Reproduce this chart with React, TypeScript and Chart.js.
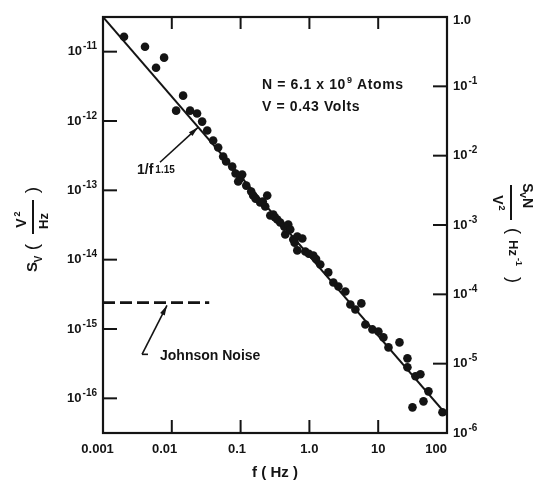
import React, { useEffect, useRef } from "react";
import { Chart, registerables } from "chart.js";

Chart.register(...registerables);

// ---- data ----
const freqHz = [
  0.00202, 0.00408, 0.00773, 0.0059, 0.0146, 0.01156, 0.01844, 0.0233, 0.0276, 0.0327,
  0.0399, 0.0472, 0.0558, 0.0616, 0.0755, 0.0986, 0.1054, 0.0923, 0.1208, 0.1426,
  0.1524, 0.2438, 0.1927, 0.228, 0.27, 0.2986, 0.341, 0.3767, 0.4315, 0.493,
  0.4457, 0.527, 0.583, 0.667, 0.789, 0.667, 0.871, 1.14, 1.44, 1.88,
  2.23, 2.64, 3.33, 3.94, 5.69, 4.66, 6.51, 8.24, 10.07, 11.9,
  14.1, 20.4, 26.6, 26.6, 34.8, 41.1, 53.8, 45.5, 31.5, 85.9,
  0.0845, 0.1650, 0.2100, 0.3150, 0.6100, 0.9800, 1.2500,
];
const svNoise = [
  1.64e-11, 1.18e-11, 8.2e-12, 5.87e-12, 2.32e-12, 1.41e-12, 1.41e-12, 1.28e-12, 9.8e-13, 7.28e-13,
  5.23e-13, 4.14e-13, 3.07e-13, 2.6e-13, 2.2e-13, 1.48e-13, 1.69e-13, 1.34e-13, 1.17e-13, 9.6e-14,
  8.4e-14, 8.4e-14, 6.67e-14, 5.85e-14, 4.34e-14, 4.48e-14, 3.79e-14, 3.43e-14, 3.0e-14, 3.21e-14,
  2.31e-14, 2.72e-14, 1.95e-14, 2.16e-14, 2.02e-14, 1.36e-14, 1.31e-14, 1.15e-14, 8.5e-15, 6.55e-15,
  4.69e-15, 4.11e-15, 3.48e-15, 2.26e-15, 2.34e-15, 1.91e-15, 1.16e-15, 9.86e-16, 9.2e-16, 7.57e-16,
  5.43e-16, 6.41e-16, 3.77e-16, 2.8e-16, 2.08e-16, 2.22e-16, 1.26e-16, 9.05e-17, 7.41e-17, 6.29e-17,
  1.75e-13, 7.6e-14, 6.9e-14, 4.1e-14, 1.75e-14, 1.22e-14, 1.02e-14,
];

const fitFreq = [0.001, 100];
const fitSv = [3.16e-11, 5.7e-17];

const johnsonFreq = [0.001, 0.035];
const johnsonSv = [2.4e-15, 2.4e-15];

const xTickValues = [0.001, 0.01, 0.1, 1, 10, 100];
const xTickLabels = ["0.001", "0.01", "0.1", "1.0", "10", "100"];
const leftTickValues = [1e-16, 1e-15, 1e-14, 1e-13, 1e-12, 1e-11];
const leftTickBase = ["10", "10", "10", "10", "10", "10"];
const leftTickExp = ["-16", "-15", "-14", "-13", "-12", "-11"];
const rightTickValues = [1e-6, 1e-5, 1e-4, 1e-3, 1e-2, 1e-1, 1];
const rightTickBase = ["10", "10", "10", "10", "10", "10", "1.0"];
const rightTickExp = ["-6", "-5", "-4", "-3", "-2", "-1", ""];

// ---- layout / style ----
const INK = "#141414";
const FAMILY = '"Liberation Sans", Arial, sans-serif';
const fnt = (size: number, weight = "bold") => `${weight} ${size}px ${FAMILY}`;
// trailing spaces nudge some x labels left, as in the original lettering
const X_NUDGE = ["   ", "    ", "  ", "", "", "      "];

// annotation anchors in data coordinates (f in Hz, S in V^2/Hz)
const ANN = {
  atoms: [0.205, 3.27e-12],
  volts: [0.205, 1.57e-12],
  slope: [0.00312, 1.95e-13],
  slopeFrom: [0.00674, 2.54e-13],
  slopeTo: [0.0241, 8.1e-13],
  johnText: [0.00674, 4.04e-16],
  johnFoot: [0.00451, 4.31e-16],
  johnFrom: [0.00369, 4.31e-16],
  johnTo: [0.00851, 2.19e-15],
};

const decorPlugin = {
  id: "decor",
  afterDraw(chart: any) {
    const { ctx, chartArea: a } = chart;
    const sx = chart.scales.x;
    const sy = chart.scales.y;
    const sr = chart.scales.y2;
    const P = (p: number[]) => [sx.getPixelForValue(p[0]), sy.getPixelForValue(p[1])];
    ctx.save();
    ctx.strokeStyle = INK;
    ctx.fillStyle = INK;
    const seg = (x1: number, y1: number, x2: number, y2: number) => {
      ctx.beginPath();
      ctx.moveTo(x1, y1);
      ctx.lineTo(x2, y2);
      ctx.stroke();
    };
    const arrow = (x1: number, y1: number, x2: number, y2: number, head = 10, w = 2.6) => {
      seg(x1, y1, x2, y2);
      const an = Math.atan2(y2 - y1, x2 - x1);
      const c = Math.cos(an), s = Math.sin(an);
      ctx.beginPath();
      ctx.moveTo(x2, y2);
      ctx.lineTo(x2 - head * c + w * s, y2 - head * s - w * c);
      ctx.lineTo(x2 - head * c - w * s, y2 - head * s + w * c);
      ctx.closePath();
      ctx.fill();
    };
    const measure = (t: string, size: number, weight = "bold") => {
      ctx.font = fnt(size, weight);
      return ctx.measureText(t).width;
    };
    const text = (t: string, x: number, y: number, size: number, align = "left", weight = "bold") => {
      ctx.font = fnt(size, weight);
      ctx.textAlign = align;
      ctx.textBaseline = "middle";
      ctx.fillText(t, x, y);
      return ctx.measureText(t).width;
    };

    // frame
    ctx.lineWidth = 2.2;
    ctx.strokeRect(a.left, a.top, a.right - a.left, a.bottom - a.top);

    // inward tick marks
    ctx.lineWidth = 2;
    sx.ticks.forEach((t: any) => {
      const px = sx.getPixelForValue(t.value);
      if (px < a.left + 2 || px > a.right - 2) return;
      seg(px, a.bottom, px, a.bottom - 13);
      seg(px, a.top, px, a.top + 12);
    });
    sy.ticks.forEach((t: any) => {
      const py = sy.getPixelForValue(t.value);
      if (py < a.top + 2 || py > a.bottom - 2) return;
      seg(a.left, py, a.left + 14, py);
    });
    sr.ticks.forEach((t: any) => {
      const py = sr.getPixelForValue(t.value);
      if (py < a.top + 2 || py > a.bottom - 2) return;
      seg(a.right, py, a.right - 14, py);
    });

    // tick labels with raised exponents
    const BASE = 13, EXP = 10;
    sy.ticks.forEach((t: any, i: number) => {
      const py = sy.getPixelForValue(t.value);
      const ew = measure(leftTickExp[i], EXP);
      const bw = measure(leftTickBase[i], BASE);
      const right = a.left - 6;
      text(leftTickBase[i], right - ew - bw - 1, py, BASE);
      text(leftTickExp[i], right - ew, py - 5, EXP);
    });
    sr.ticks.forEach((t: any, i: number) => {
      const py = sr.getPixelForValue(t.value) + (i === rightTickValues.length - 1 ? 3 : 0);
      const left = a.right + 6;
      const bw = text(rightTickBase[i], left, py, BASE);
      if (rightTickExp[i]) text(rightTickExp[i], left + bw + 1, py - 5, EXP);
    });

    // N and V annotation
    ctx.letterSpacing = "0.6px";
    let [tx, ty] = P(ANN.atoms);
    tx += text("N = 6.1 x 10", tx, ty, 14);
    tx += text("9", tx + 1, ty - 5, 9) + 1;
    text(" Atoms", tx, ty, 14);
    [tx, ty] = P(ANN.volts);
    text("V = 0.43 Volts", tx, ty, 14);
    ctx.letterSpacing = "0px";

    // slope label + arrow
    [tx, ty] = P(ANN.slope);
    tx += text("1/f", tx, ty, 14);
    text("1.15", tx + 2, ty, 10);
    ctx.lineWidth = 1.6;
    let [ax, ay] = P(ANN.slopeFrom);
    let [bx, by] = P(ANN.slopeTo);
    arrow(ax, ay, bx, by);

    // Johnson noise label + arrow
    [tx, ty] = P(ANN.johnText);
    text("Johnson Noise", tx, ty, 14);
    [ax, ay] = P(ANN.johnFrom);
    const [fx, fy] = P(ANN.johnFoot);
    seg(ax, ay, fx, fy);
    [bx, by] = P(ANN.johnTo);
    arrow(ax, ay, bx, by);

    // left axis title, rotated (reads bottom to top)
    ctx.save();
    ctx.translate(33, 228);
    ctx.rotate(-Math.PI / 2);
    text("S", -39, 0, 15, "center");
    text("V", -31, 6, 10, "center");
    text("(", -19, 0, 19, "center", "normal");
    text("V", 5, -11, 14, "center");
    text("2", 14, -15, 9, "center");
    text("Hz", 7, 11, 13, "center");
    ctx.lineWidth = 2;
    seg(-6, 0, 28, 0);
    text(")", 38, 0, 19, "center", "normal");
    ctx.restore();

    // right axis title, rotated (reads top to bottom)
    ctx.save();
    ctx.translate(511, 202);
    ctx.rotate(Math.PI / 2);
    text("S", -14, -16, 14, "center");
    text("V", -7, -11, 9, "center");
    text("N", 1, -16, 14, "center");
    ctx.lineWidth = 2;
    seg(-17, 0, 18, 0);
    text("V", -2, 14, 14, "center");
    text("2", 6, 10, 9, "center");
    text("(", 29, -2, 18, "center", "normal");
    text("Hz", 46, -2, 13, "center");
    text("-1", 60, -7, 9, "center");
    text(")", 78, -2, 18, "center", "normal");
    ctx.restore();

    ctx.restore();
  },
};

export default function App() {
  const ref = useRef<HTMLCanvasElement>(null);
  useEffect(() => {
    document.body.style.margin = "0";
    const pts = freqHz.map((f, i) => ({ x: f, y: svNoise[i] }));
    const fit = fitFreq.map((f, i) => ({ x: f, y: fitSv[i] }));
    const john = johnsonFreq.map((f, i) => ({ x: f, y: johnsonSv[i] }));
    const tickFont = { family: FAMILY, size: 13, weight: "bold" as const };
    const chart = new Chart(ref.current as HTMLCanvasElement, {
      type: "scatter",
      data: {
        datasets: [
          {
            label: "measured",
            data: pts,
            pointRadius: 4.3,
            pointBackgroundColor: INK,
            pointBorderWidth: 0,
            borderWidth: 0,
            yAxisID: "y",
          },
          {
            label: "fit",
            data: fit,
            showLine: true,
            pointRadius: 0,
            borderColor: INK,
            borderWidth: 2,
            yAxisID: "y",
          },
          {
            label: "johnson",
            data: john,
            showLine: true,
            pointRadius: 0,
            borderColor: INK,
            borderWidth: 2.6,
            borderDash: [12, 5],
            yAxisID: "y",
          },
        ],
      },
      options: {
        animation: false,
        responsive: true,
        maintainAspectRatio: false,
        devicePixelRatio: 1,
        layout: { padding: { top: 17, left: 0, right: 0, bottom: 0 } },
        plugins: { legend: { display: false }, tooltip: { enabled: false } },
        scales: {
          x: {
            type: "logarithmic",
            position: "bottom",
            min: 0.001,
            max: 100,
            afterBuildTicks: (s: any) => {
              s.ticks = xTickValues.map((v) => ({ value: v }));
            },
            afterFit: (s: any) => {
              s.height = 49;
            },
            grid: { display: false, drawTicks: false },
            border: { display: false },
            ticks: {
              autoSkip: false,
              maxRotation: 0,
              minRotation: 0,
              padding: 9,
              color: INK,
              font: tickFont,
              callback: (_v: any, i: number) => xTickLabels[i] + X_NUDGE[i],
            },
            title: {
              display: true,
              text: "f ( Hz )",
              color: INK,
              font: { family: FAMILY, size: 15, weight: "bold" },
              padding: 0,
            },
          },
          y: {
            type: "logarithmic",
            position: "left",
            min: Math.pow(10, -16.5),
            max: Math.pow(10, -10.5),
            afterBuildTicks: (s: any) => {
              s.ticks = leftTickValues.map((v) => ({ value: v }));
            },
            afterFit: (s: any) => {
              s.width = 103;
            },
            grid: { display: false, drawTicks: false },
            border: { display: false },
            ticks: { display: false },
          },
          y2: {
            type: "logarithmic",
            position: "right",
            min: 1e-6,
            max: 1,
            afterBuildTicks: (s: any) => {
              s.ticks = rightTickValues.map((v) => ({ value: v }));
            },
            afterFit: (s: any) => {
              s.width = 89;
            },
            grid: { display: false, drawTicks: false },
            border: { display: false },
            ticks: { display: false },
          },
        },
      } as any,
      plugins: [decorPlugin],
    });
    return () => chart.destroy();
  }, []);
  return (
    <div style={{ width: 536, height: 482, position: "relative" }}>
      <canvas ref={ref} />
    </div>
  );
}
